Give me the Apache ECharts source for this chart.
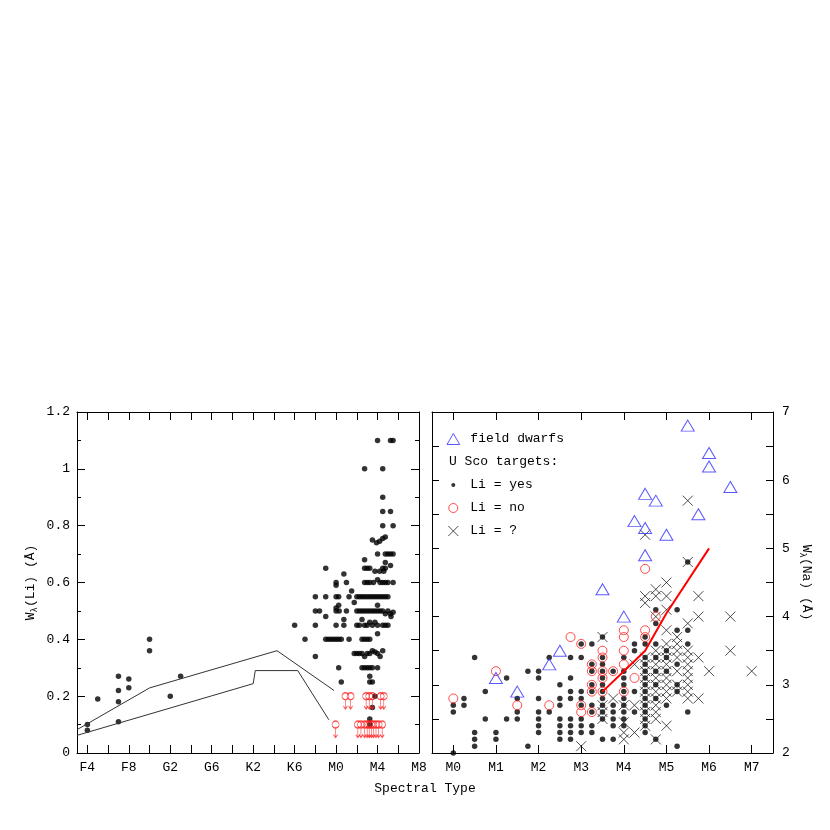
<!DOCTYPE html>
<html>
<head>
<meta charset="utf-8">
<title>Li and Na equivalent widths vs spectral type</title>
<script src="https://cdn.jsdelivr.net/npm/echarts@6/dist/echarts.min.js"></script>
<style>
  html, body { margin: 0; padding: 0; background: #fff; }
  #chart { width: 830px; height: 830px; }
</style>
</head>
<body>
<div id="chart"></div>
<script>
// ---- left panel: W(Li) vs spectral type (F0 = 0 ... M0 = 28) ----
const leftTickLabels = ['F4', 'F8', 'G2', 'G6', 'K2', 'K6', 'M0', 'M4', 'M8'];
const leftLabelValues = [4, 8, 12, 16, 20, 24, 28, 32, 36];
const leftTickValues = [4, 6, 8, 10, 12, 14, 16, 18, 20, 22, 24, 26, 28, 30, 32, 34, 36];

// Li detections, earlier than M
const liLeftEarly = [
  [4, 0.10], [4, 0.08], [5, 0.19], [7, 0.27], [7, 0.22], [7, 0.18], [7, 0.11],
  [8, 0.26], [8, 0.23], [10, 0.40], [10, 0.36], [12, 0.20], [13, 0.27],
  [24, 0.45], [25, 0.40], [26, 0.55], [26, 0.50], [26, 0.45], [26, 0.34], [26.4, 0.50],
  [27, 0.65], [27, 0.55], [27, 0.48], [27, 0.40]
];
// Li detections, M stars
const liLeftM = [
  [32, 1.10], [33.25, 1.10], [33.5, 1.10],
  [30.75, 1.00], [32.5, 1.00],
  [32.5, 0.90], [32.5, 0.85], [33.25, 0.85], [32.5, 0.80], [33.5, 0.80],
  [31.5, 0.75], [31.9, 0.74], [32.2, 0.745], [32.5, 0.755], [32.75, 0.76],
  [32, 0.70], [32.75, 0.70], [33, 0.70], [33.25, 0.70], [33.5, 0.70],
  [30.75, 0.68], [32.75, 0.67], [33.25, 0.66],
  [30.75, 0.65], [31, 0.65], [31.25, 0.65], [31.75, 0.64], [32.2, 0.64], [32.5, 0.65], [32.6, 0.64], [32.75, 0.65],
  [28.75, 0.63],
  [28, 0.60], [28, 0.59], [29, 0.60], [30.75, 0.60], [31, 0.60], [31.25, 0.60], [31.6, 0.60], [32, 0.61],
  [32.25, 0.60], [32.5, 0.60], [32.75, 0.60], [33, 0.60], [33.5, 0.60],
  [29.5, 0.57],
  [28, 0.55], [28.25, 0.55], [29.25, 0.55], [30, 0.55], [30.25, 0.55], [30.5, 0.55], [30.75, 0.55], [31, 0.55],
  [31.25, 0.55], [31.5, 0.55], [31.75, 0.55], [32, 0.55], [32.25, 0.55], [32.5, 0.55], [32.75, 0.55], [33, 0.55],
  [29.75, 0.53], [28.25, 0.52], [28, 0.51], [32, 0.52],
  [28, 0.50], [28.3, 0.50], [29, 0.50], [30, 0.50], [30.25, 0.50], [30.5, 0.50], [30.75, 0.50], [31, 0.50],
  [31.25, 0.50], [31.5, 0.50], [31.75, 0.50], [32, 0.50], [32.25, 0.50], [32.5, 0.50], [32.75, 0.49], [33, 0.50],
  [33.25, 0.49], [33.5, 0.495], [33.3, 0.48],
  [28.75, 0.47], [30.5, 0.47],
  [28, 0.45], [28.75, 0.45], [30, 0.45], [30.25, 0.45], [30.75, 0.45], [31, 0.45], [31.25, 0.46], [31.5, 0.45],
  [31.75, 0.46], [32, 0.45], [32.5, 0.45], [32.75, 0.45], [33, 0.45],
  [32, 0.42],
  [27.25, 0.40], [27.5, 0.40], [27.75, 0.40], [28, 0.40], [28.25, 0.40], [28.5, 0.40], [29.25, 0.40],
  [30.5, 0.40], [30.75, 0.40], [31, 0.40], [31.25, 0.40],
  [29.75, 0.35], [30, 0.35], [30.25, 0.35], [30.5, 0.35], [30.75, 0.34], [31, 0.35], [31.25, 0.35],
  [31.5, 0.36], [31.75, 0.355], [32, 0.35], [32.25, 0.34], [32.5, 0.36],
  [28.25, 0.30], [30.5, 0.30], [30.75, 0.30], [31, 0.30], [31.25, 0.30], [31.5, 0.30], [32, 0.30],
  [31.25, 0.27], [28.5, 0.25], [31.25, 0.25], [31.5, 0.25],
  [31.75, 0.20], [31.5, 0.16], [31.25, 0.12], [31.25, 0.10]
];
// Li upper limits (red, arrow down)
const liLeftLimits = [
  [28.9, 0.2], [29.4, 0.2], [30.9, 0.2], [31.2, 0.2], [31.5, 0.2], [32.3, 0.2], [32.6, 0.2],
  [27.95, 0.1], [30.1, 0.1], [30.4, 0.1], [30.75, 0.1], [31.0, 0.1], [31.2, 0.1], [31.4, 0.1],
  [31.6, 0.1], [31.85, 0.1], [32.1, 0.1], [32.45, 0.1]
];
// depletion boundaries
const leftUpperLine = [[3, 0.082], [10, 0.229], [22.3, 0.36], [27.8, 0.22]];
const leftLowerLine = [[3, 0.062], [20, 0.244], [20.2, 0.29], [24.3, 0.29], [27.3, 0.117]];

// ---- right panel: W(Na) vs M subtype ----
const rightTickLabels = ['M0', 'M1', 'M2', 'M3', 'M4', 'M5', 'M6', 'M7'];
const rightLabelValues = [0, 1, 2, 3, 4, 5, 6, 7];

const fieldDwarfs = [
  [1.0, 3.1], [1.5, 2.9], [2.25, 3.3], [2.5, 3.5], [3.5, 4.4], [4.0, 4.0], [4.25, 5.4],
  [4.5, 5.8], [4.5, 5.3], [4.5, 4.9], [4.75, 5.7], [5.0, 5.2], [5.5, 6.8], [5.75, 5.5],
  [6.0, 6.4], [6.0, 6.2], [6.5, 5.9]
];
const liYes = [
  [0, 2.0], [0, 2.7], [0, 2.6], [0.25, 2.8], [0.25, 2.7],
  [0.5, 3.4], [0.5, 2.3], [0.5, 2.2], [0.5, 2.1], [0.75, 2.9], [0.75, 2.5],
  [1.0, 2.3], [1.0, 2.2], [1.25, 3.1], [1.25, 2.5], [1.5, 2.8], [1.5, 2.6], [1.5, 2.5],
  [1.75, 3.2], [1.75, 2.1],
  [2.0, 3.2], [2.0, 3.1], [2.0, 2.8], [2.0, 2.6], [2.0, 2.5], [2.0, 2.4], [2.0, 2.3],
  [2.25, 3.4], [2.25, 2.6],
  [2.5, 3.0], [2.5, 2.8], [2.5, 2.7], [2.5, 2.5], [2.5, 2.4], [2.5, 2.3], [2.5, 2.2],
  [2.75, 3.4], [2.75, 3.1], [2.75, 2.9], [2.75, 2.8], [2.75, 2.5], [2.75, 2.4], [2.75, 2.3], [2.75, 2.2],
  [3.0, 3.6], [3.0, 3.4], [3.0, 2.9], [3.0, 2.8], [3.0, 2.7], [3.0, 2.5], [3.0, 2.4], [3.0, 2.3],
  [3.25, 3.6], [3.25, 3.3], [3.25, 3.2], [3.25, 3.0], [3.25, 2.9], [3.25, 2.7], [3.25, 2.6], [3.25, 2.4], [3.25, 2.3],
  [3.5, 3.7], [3.5, 3.4], [3.5, 3.3], [3.5, 3.2], [3.5, 3.1], [3.5, 3.0], [3.5, 2.9], [3.5, 2.8],
  [3.5, 2.7], [3.5, 2.6], [3.5, 2.5], [3.5, 2.2],
  [3.75, 3.2], [3.75, 2.7], [3.75, 2.6], [3.75, 2.5], [3.75, 2.4], [3.75, 2.2],
  [4.0, 3.4], [4.0, 3.2], [4.0, 3.1], [4.0, 3.0], [4.0, 2.9], [4.0, 2.8], [4.0, 2.7], [4.0, 2.6], [4.0, 2.5], [4.0, 2.4],
  [4.25, 3.6], [4.25, 3.5], [4.25, 2.9], [4.25, 2.6],
  [4.5, 3.7], [4.5, 3.6], [4.5, 3.4], [4.5, 3.3], [4.5, 3.2], [4.5, 3.1], [4.5, 3.0], [4.5, 2.9],
  [4.5, 2.8], [4.5, 2.7], [4.5, 2.6], [4.5, 2.5], [4.5, 2.4], [4.5, 2.3],
  [4.75, 4.1], [4.75, 3.9], [4.75, 3.6], [4.75, 3.4], [4.75, 3.2], [4.75, 3.0], [4.75, 2.8], [4.75, 2.2],
  [5.0, 3.5], [5.0, 3.4], [5.0, 3.2], [5.0, 2.7],
  [5.25, 4.1], [5.25, 3.8], [5.25, 3.3], [5.25, 3.0], [5.25, 2.9], [5.25, 2.1],
  [5.5, 4.8], [5.5, 3.8], [5.5, 3.6], [5.5, 2.6]
];
const liNo = [
  [0, 2.8], [1.0, 3.2], [1.5, 2.7], [2.25, 2.7], [2.75, 3.7], [3.0, 3.6], [3.0, 2.7], [3.0, 2.6],
  [3.25, 3.3], [3.25, 3.2], [3.25, 3.0], [3.25, 2.9], [3.25, 2.6],
  [3.5, 3.5], [3.5, 3.4], [3.5, 3.2], [3.5, 3.1], [3.5, 2.9], [3.75, 3.2],
  [4.0, 3.8], [4.0, 3.7], [4.0, 3.5], [4.0, 3.3], [4.0, 2.9], [4.25, 3.1],
  [4.5, 3.8], [4.5, 3.7], [4.5, 4.7], [4.75, 4.0]
];
const liUnknown = [
  [3.0, 2.1], [3.5, 3.7], [3.5, 2.7], [3.5, 2.6], [3.5, 2.5], [3.75, 2.8],
  [4.0, 2.7], [4.0, 2.45], [4.0, 2.3], [4.0, 2.2], [4.25, 3.3], [4.25, 2.7], [4.25, 2.3],
  [4.5, 5.2], [4.5, 4.3], [4.5, 4.2], [4.5, 3.4], [4.5, 3.3], [4.5, 3.2], [4.5, 3.1], [4.5, 3.0],
  [4.5, 2.9], [4.5, 2.8], [4.5, 2.7], [4.5, 2.6], [4.5, 2.5], [4.5, 2.4],
  [4.75, 4.4], [4.75, 4.3], [4.75, 4.0], [4.75, 3.5], [4.75, 3.4], [4.75, 3.3], [4.75, 3.2], [4.75, 3.1],
  [4.75, 3.0], [4.75, 2.9], [4.75, 2.8], [4.75, 2.7], [4.75, 2.6], [4.75, 2.5], [4.75, 2.2],
  [5.0, 4.5], [5.0, 4.3], [5.0, 4.1], [5.0, 3.8], [5.0, 3.6], [5.0, 3.5], [5.0, 3.4], [5.0, 3.3],
  [5.0, 3.2], [5.0, 3.1], [5.0, 3.0], [5.0, 2.9], [5.0, 2.8], [5.0, 2.4],
  [5.25, 3.7], [5.25, 3.6], [5.25, 3.5], [5.25, 3.4], [5.25, 3.2], [5.25, 3.0], [5.25, 2.9],
  [5.5, 5.7], [5.5, 4.8], [5.5, 3.9], [5.5, 3.5], [5.5, 3.4], [5.5, 3.3], [5.5, 3.2], [5.5, 3.1],
  [5.5, 3.0], [5.5, 2.9], [5.5, 2.8],
  [5.75, 4.3], [5.75, 4.0], [5.75, 3.4], [5.75, 2.8],
  [6.0, 3.2], [6.5, 4.0], [6.5, 3.5], [7.0, 3.2]
];
// red relation
const naRelation = [[3.5, 2.9], [4.0, 3.2], [4.5, 3.5], [5.0, 4.05], [6.0, 5.0]];

// ---- styling ----
const FONT = 'Liberation Mono';
const INK = '#000';
const RED = '#ff2020';
const BLUE = '#3030ff';
const txt = { fontFamily: FONT, fontSize: 13, color: INK };
const crossPath = 'path://M0,0L10,10M10,0L0,10';
const limitPath = 'path://M0,3.5A3.5,3.5,0,1,1,7,3.5A3.5,3.5,0,1,1,0,3.5M3.5,7L3.5,16.5M1.5,13.5L3.5,16.5L5.5,13.5';

const line = { show: true, onZero: false, lineStyle: { color: INK, width: 1 } };
const tick = (len, extra) => Object.assign({ show: true, inside: true, length: len, lineStyle: { color: INK } }, extra || {});
const nameRich = {
  a: { fontFamily: FONT, fontSize: 13, color: INK, lineHeight: 16 },
  b: { fontFamily: FONT, fontSize: 9, color: INK, lineHeight: 16, verticalAlign: 'bottom' }
};

const chart = echarts.init(document.getElementById('chart'));

const option = {
  animation: false,
  backgroundColor: '#fff',
  grid: [
    { left: 77, top: 412, width: 342, height: 341, outerBoundsMode: 'none' },
    { left: 432, top: 412, width: 341, height: 341, outerBoundsMode: 'none' }
  ],
  xAxis: [
    {
      type: 'value', gridIndex: 0, position: 'bottom', min: 3, max: 36,
      axisLine: line, splitLine: { show: false },
      axisTick: tick(8, { customValues: leftTickValues }),
      axisLabel: Object.assign({ customValues: leftLabelValues, margin: 8,
        formatter: v => leftTickLabels[leftLabelValues.indexOf(v)] || '' }, txt)
    },
    {
      type: 'value', gridIndex: 0, position: 'top', min: 3, max: 36,
      axisLine: line, splitLine: { show: false }, axisLabel: { show: false },
      axisTick: tick(8, { customValues: leftTickValues })
    },
    {
      type: 'value', gridIndex: 1, position: 'bottom', min: -0.5, max: 7.5,
      axisLine: line, splitLine: { show: false },
      axisTick: tick(8, { customValues: rightLabelValues }),
      axisLabel: Object.assign({ customValues: rightLabelValues, margin: 8,
        formatter: v => rightTickLabels[rightLabelValues.indexOf(v)] || '' }, txt)
    },
    {
      type: 'value', gridIndex: 1, position: 'top', min: -0.5, max: 7.5,
      axisLine: line, splitLine: { show: false }, axisLabel: { show: false },
      axisTick: tick(8, { customValues: rightLabelValues })
    }
  ],
  yAxis: [
    {
      type: 'value', gridIndex: 0, position: 'left', min: 0, max: 1.2, interval: 0.2,
      axisLine: line, splitLine: { show: false },
      axisTick: tick(8), minorTick: { show: true, splitNumber: 2, length: 4, lineStyle: { color: INK } },
      axisLabel: Object.assign({ margin: 7 }, txt),
      name: '{a|W}{b|λ}{a|(Li) (Å)}', nameLocation: 'middle', nameGap: 38,
      nameTextStyle: { rich: nameRich }
    },
    {
      type: 'value', gridIndex: 0, position: 'right', min: 0, max: 1.2, interval: 0.2,
      axisLine: line, splitLine: { show: false }, axisLabel: { show: false },
      axisTick: tick(8), minorTick: { show: true, splitNumber: 2, length: 4, lineStyle: { color: INK } }
    },
    {
      type: 'value', gridIndex: 1, position: 'right', min: 2, max: 7, interval: 1,
      axisLine: line, splitLine: { show: false },
      axisTick: tick(7), minorTick: { show: true, splitNumber: 2, length: 7, lineStyle: { color: INK } },
      axisLabel: Object.assign({ margin: 9 }, txt),
      name: '{a|W}{b|λ}{a|(Na) (Å)}', nameLocation: 'middle', nameGap: 25, nameRotate: -90,
      nameTextStyle: { rich: nameRich }
    },
    {
      type: 'value', gridIndex: 1, position: 'left', min: 2, max: 7, interval: 1,
      axisLine: line, splitLine: { show: false }, axisLabel: { show: false },
      axisTick: tick(7), minorTick: { show: true, splitNumber: 2, length: 7, lineStyle: { color: INK } }
    }
  ],
  // one legend per row; left is set so each icon sits at the same centre
  legend: [
    { data: [{ name: 'field dwarfs', icon: 'path://M6,0L12,10.4L0,10.4Z' }], top: 431, left: 446.5, itemHeight: 11 },
    { data: ['Li = yes'], top: 477, left: 451.3, itemHeight: 4 },
    { data: ['Li = no'], top: 500, left: 448.3, itemHeight: 9 },
    { data: ['Li = ?'], top: 523, left: 447.8, itemHeight: 10 }
  ].map(l => Object.assign({
    orient: 'vertical', padding: 0, itemWidth: 24, selectedMode: false,
    itemStyle: { borderWidth: 1 },
    textStyle: { fontFamily: FONT, fontSize: 13, color: INK, lineHeight: 16 }
  }, l)),
  graphic: [
    { type: 'text', x: 449, y: 462, style: { text: 'U Sco targets:', font: '13px "Liberation Mono"', fill: INK, verticalAlign: 'middle' } },
    { type: 'text', x: 425, y: 789, style: { text: 'Spectral Type', font: '13px "Liberation Mono"', fill: INK, align: 'center', verticalAlign: 'middle' } }
  ],
  series: [
    { name: 'upper boundary', type: 'line', xAxisIndex: 0, yAxisIndex: 0, data: leftUpperLine,
      symbol: 'none', silent: true, lineStyle: { color: '#333', width: 1 } },
    { name: 'lower boundary', type: 'line', xAxisIndex: 0, yAxisIndex: 0, data: leftLowerLine,
      symbol: 'none', silent: true, lineStyle: { color: '#333', width: 1 } },
    { name: 'Li detected', type: 'scatter', xAxisIndex: 0, yAxisIndex: 0,
      data: liLeftEarly.concat(liLeftM), symbol: 'circle', symbolSize: 5.5, itemStyle: { color: INK } },
    { name: 'Li upper limit', type: 'scatter', xAxisIndex: 0, yAxisIndex: 0, data: liLeftLimits,
      symbol: limitPath, symbolSize: [7, 16.5], symbolOffset: [0, 4.75],
      itemStyle: { color: 'transparent', borderColor: RED, borderWidth: 1 } },

    { name: 'Li = yes', type: 'scatter', xAxisIndex: 2, yAxisIndex: 2, data: liYes,
      symbol: 'circle', symbolSize: 5.5, itemStyle: { color: INK } },
    { name: 'Li = ?', type: 'scatter', xAxisIndex: 2, yAxisIndex: 2, data: liUnknown,
      symbol: crossPath, symbolSize: 10, itemStyle: { color: 'transparent', borderColor: '#222', borderWidth: 1 } },
    { name: 'Li = no', type: 'scatter', xAxisIndex: 2, yAxisIndex: 2, data: liNo,
      symbol: 'circle', symbolSize: 9, itemStyle: { color: 'transparent', borderColor: RED, borderWidth: 1 } },
    { name: 'field dwarfs', type: 'scatter', xAxisIndex: 2, yAxisIndex: 2, data: fieldDwarfs,
      symbol: 'triangle', symbolSize: [13, 11], itemStyle: { color: 'transparent', borderColor: BLUE, borderWidth: 1 } },
    { name: 'Na relation', type: 'line', xAxisIndex: 2, yAxisIndex: 2, data: naRelation,
      symbol: 'none', silent: true, lineStyle: { color: '#ff0000', width: 2 } }
  ]
};

chart.setOption(option);
</script>
</body>
</html>
